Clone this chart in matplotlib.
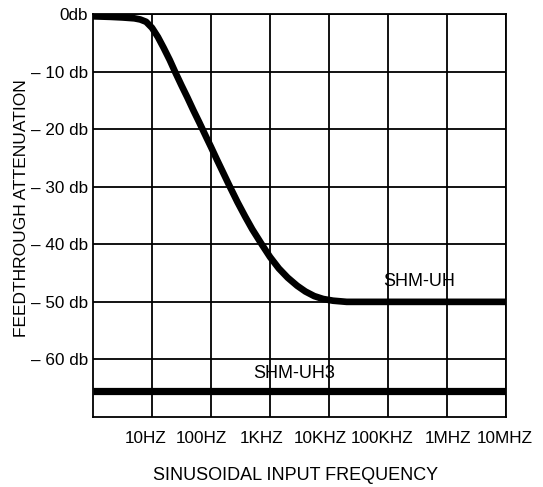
import numpy as np
import matplotlib
matplotlib.use("Agg")
import matplotlib.pyplot as plt
import matplotlib.transforms as mtransforms
from matplotlib.ticker import NullLocator

plt.rcParams['font.family'] = ['Liberation Sans', 'DejaVu Sans']

# SHM-UH 曲线 (频率 Hz, 衰减 db)
uh_freq = [1, 2, 3.16, 5.01, 6.31, 7.94, 10, 12.6, 15.8, 20, 24.5, 31.6, 39.8,
           50.1, 63.1, 83.2, 100, 126, 158, 209, 282, 380, 501, 724, 1000,
           1413, 1995, 2884, 3981, 5623, 7943, 11750, 19950, 1e7]
uh_db = [-0.4, -0.5, -0.6, -0.75, -0.95, -1.35, -2.4, -4.0, -5.9, -8.0, -10,
         -12.4, -14.5, -16.7, -18.8, -21.4, -23.1, -25.3, -27.4, -30, -32.7,
         -35.2, -37.4, -40, -42.2, -44.2, -45.8, -47.2, -48.2, -49.0, -49.5,
         -49.8, -50, -50]

# SHM-UH3 平直线
uh3_freq = [1, 1e7]
uh3_db = [-65.5, -65.5]

xticks = [10, 100, 1e3, 1e4, 1e5, 1e6, 1e7]
xlabels = ['10HZ', '100HZ', '1KHZ', '10KHZ', '100KHZ', '1MHZ', '10MHZ']
yticks = [0, -10, -20, -30, -40, -50, -60]
ylabels = ['0db', '\u2013 10 db', '\u2013 20 db', '\u2013 30 db',
           '\u2013 40 db', '\u2013 50 db', '\u2013 60 db']

fig = plt.figure(figsize=(5.43, 4.87), dpi=100)
ax = fig.add_axes([93 / 543, 1 - 417 / 487, 413 / 543, 403 / 487])

ax.plot(uh_freq, uh_db, color='black', lw=4.8, solid_capstyle='butt',
        solid_joinstyle='round', zorder=3)
ax.plot(uh3_freq, uh3_db, color='black', lw=5.2, solid_capstyle='butt',
        zorder=3)

ax.set_xscale('log')
ax.set_xlim(1, 1e7)
ax.set_ylim(-70, 0)
ax.xaxis.set_minor_locator(NullLocator())
ax.set_xticks(xticks)
ax.set_xticklabels(xlabels)
ax.set_yticks(yticks)
ax.set_yticklabels(ylabels)
ax.tick_params(axis='both', length=0, labelsize=12.3, colors='black')
ax.tick_params(axis='x', pad=10)
ax.tick_params(axis='y', pad=3.5)

# 刻度标签略微左移 (像素), 与原图一致
x_shift = [-6, -10, -8, -9, -6, 1, -1]
for lab, dx in zip(ax.get_xticklabels(), x_shift):
    off = mtransforms.ScaledTranslation(dx / 100, 0, fig.dpi_scale_trans)
    lab.set_transform(lab.get_transform() + off)

ax.grid(True, color='black', lw=1.3)
for sp in ax.spines.values():
    sp.set_color('black')
    sp.set_linewidth(1.3)

ax.text(3.4e5, -46.4, 'SHM-UH', fontsize=13, ha='center', va='center')
ax.text(2.6e3, -62.4, 'SHM-UH3', fontsize=13, ha='center', va='center')

fig.text(296 / 543, 1 - 476 / 487, 'SINUSOIDAL INPUT FREQUENCY', fontsize=13,
         ha='center', va='center')
fig.text(22 / 543, 1 - 208 / 487, 'FEEDTHROUGH ATTENUATION', fontsize=12.5,
         rotation=90, ha='center', va='center')

fig.savefig('out.png', dpi=100)
